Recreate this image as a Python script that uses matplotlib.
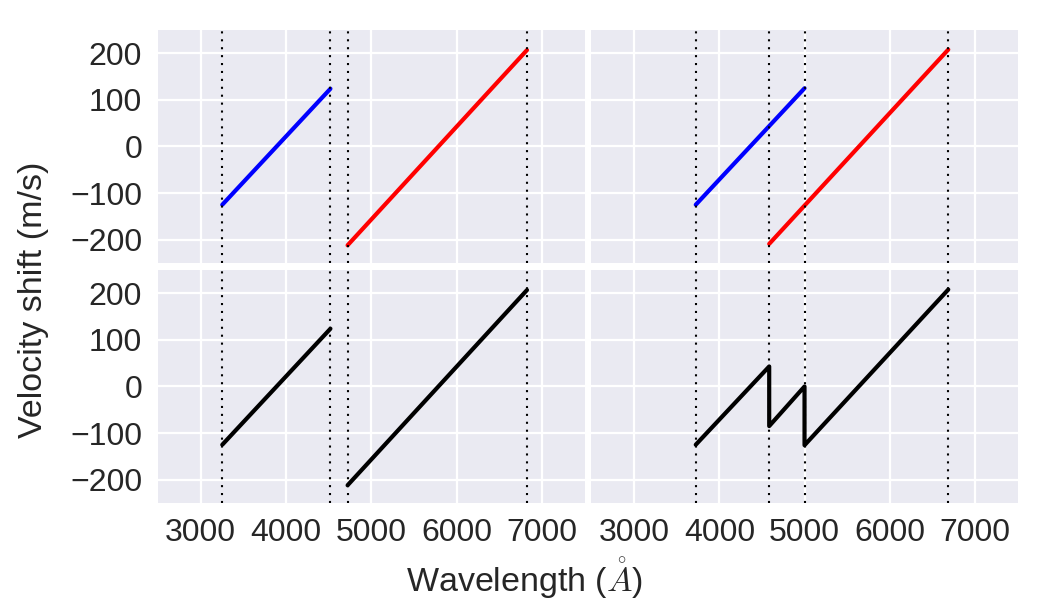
import matplotlib
matplotlib.use("Agg")
import matplotlib.pyplot as plt
import seaborn as sns

# ---- data ----
# top-left: two separate chips
tl_blue_x = [3253, 4521]
tl_blue_y = [-125, 124]
tl_red_x = [4722, 6825]
tl_red_y = [-212, 207]
tl_vlines = [3253, 4521, 4722, 6825]

# top-right: overlapping chips
tr_blue_x = [3723, 4998]
tr_blue_y = [-125, 125]
tr_red_x = [4584, 6683]
tr_red_y = [-209, 208]
tr_vlines = [3723, 4584, 4998, 6683]

# bottom-left: combined
bl_x1 = [3253, 4521]
bl_y1 = [-125, 124]
bl_x2 = [4722, 6825]
bl_y2 = [-212, 207]

# bottom-right: combined (averaged in overlap)
br_x = [3723, 4584, 4584, 4998, 4998, 6683]
br_y = [-125, 43, -85, 0, -126, 208]

xticks = [3000, 4000, 5000, 6000, 7000]
yticks = [-200, -100, 0, 100, 200]

sns.set_style("darkgrid")
plt.rcParams['font.family'] = ['Liberation Sans', 'DejaVu Sans']
plt.rcParams['mathtext.fontset'] = 'cm'
FS = 23
LFS = 24.5
TC = '.15'

fig, axes = plt.subplots(2, 2, figsize=(10.5, 6), dpi=100, sharex=True, sharey=True)
fig.subplots_adjust(left=0.1505, right=0.9695, top=0.95, bottom=0.1617,
                    wspace=0.016, hspace=0.03)

lw = 3.0
vl_kw = dict(color='black', ls=(0, (1, 2.8)), lw=1.5)

ax = axes[0, 0]
ax.plot(tl_blue_x, tl_blue_y, color='blue', lw=lw)
ax.plot(tl_red_x, tl_red_y, color='red', lw=lw)
for v in tl_vlines:
    ax.axvline(v, **vl_kw)

ax = axes[0, 1]
ax.plot(tr_blue_x, tr_blue_y, color='blue', lw=lw)
ax.plot(tr_red_x, tr_red_y, color='red', lw=lw)
for v in tr_vlines:
    ax.axvline(v, **vl_kw)

ax = axes[1, 0]
ax.plot(bl_x1, bl_y1, color='black', lw=lw)
ax.plot(bl_x2, bl_y2, color='black', lw=lw)
for v in tl_vlines:
    ax.axvline(v, **vl_kw)

ax = axes[1, 1]
ax.plot(br_x, br_y, color='black', lw=lw)
for v in tr_vlines:
    ax.axvline(v, **vl_kw)

for ax in axes.flat:
    ax.set_xlim(2500, 7500)
    ax.set_ylim(-250, 250)
    ax.set_xticks(xticks)
    ax.set_yticks(yticks)
    ax.grid(True, color='white', lw=1.6)
    ax.set_axisbelow(True)
    ax.set_facecolor('#EAEAF2')
    ax.tick_params(axis='both', length=0, labelsize=FS, labelcolor=TC)
    ax.tick_params(axis='x', pad=10.5)
    ax.tick_params(axis='y', pad=11.5)
    for s in ax.spines.values():
        s.set_visible(False)

for ax in axes[0, :]:
    ax.tick_params(labelbottom=False)
for ax in axes[:, 1]:
    ax.tick_params(labelleft=False)

fig.text(0.032, 0.5, 'Velocity shift (m/s)', rotation=90, ha='center', va='center',
         fontsize=LFS, color=TC)
fig.text(0.5, 0.037, r'Wavelength ($\mathring{A}$)', ha='center', va='center',
         fontsize=LFS, color=TC)

fig.savefig('out.png', dpi=100)
